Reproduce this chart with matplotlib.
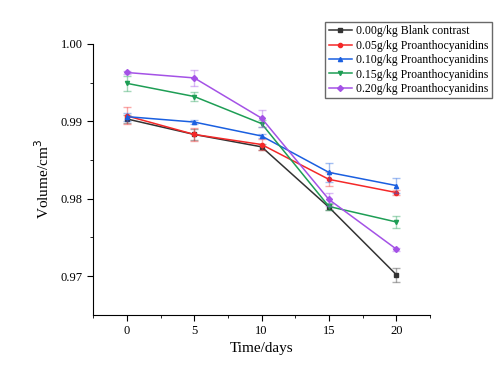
import matplotlib.pyplot as plt

plt.rcParams["font.family"] = ["Liberation Serif", "DejaVu Serif"]

# ── Data ─────────────────────────────────────────────────────────────────────
DAYS = [0, 5, 10, 15, 20]

LABELS = [
    "0.00g/kg Blank contrast",
    "0.05g/kg Proanthocyanidins",
    "0.10g/kg Proanthocyanidins",
    "0.15g/kg Proanthocyanidins",
    "0.20g/kg Proanthocyanidins",
]

BLANK  = [0.9903, 0.9883, 0.9867, 0.9789, 0.9702]
PA_005 = [0.9907, 0.9883, 0.9870, 0.9825, 0.9808]
PA_010 = [0.9906, 0.9899, 0.9881, 0.9834, 0.9817]
PA_015 = [0.9949, 0.9932, 0.9897, 0.9790, 0.9770]
PA_020 = [0.9963, 0.9956, 0.9904, 0.9799, 0.9735]

BLANK_ERR  = [0.0005, 0.0007, 0.0004, 0.0004, 0.0009]
PA_005_ERR = [0.0011, 0.0008, 0.0007, 0.0009, 0.0003]
PA_010_ERR = [0.0005, 0.0003, 0.0003, 0.0012, 0.0010]
PA_015_ERR = [0.0010, 0.0006, 0.0005, 0.0004, 0.0008]
PA_020_ERR = [0.0002, 0.0010, 0.0011, 0.0008, 0.0002]

SERIES = [BLANK, PA_005, PA_010, PA_015, PA_020]
ERRORS = [BLANK_ERR, PA_005_ERR, PA_010_ERR, PA_015_ERR, PA_020_ERR]
COLOURS = ["#333333", "#F42828", "#1A5FE0", "#1E9E55", "#A452E6"]
MARKERS = ["s", "o", "^", "v", "D"]

fig = plt.figure(figsize=(5.04, 3.78), dpi=100)
ax = fig.add_axes([0.185, 0.167, 0.668, 0.717])

for y, err, c, m, lab in zip(SERIES, ERRORS, COLOURS, MARKERS, LABELS):
    ax.errorbar(DAYS, y, yerr=err, fmt="none", ecolor=c, alpha=0.4,
                elinewidth=1, capsize=3, capthick=1)
    ax.plot(DAYS, y, color=c, marker=m, markersize=3, linewidth=1.1,
            label=lab)

ax.set_xlim(-2.5, 22.5)
ax.set_ylim(0.965, 1.00)
ax.set_xticks(DAYS)
ax.set_xticks([-2.5, 2.5, 7.5, 12.5, 17.5, 22.5], minor=True)
ax.set_yticks([0.97, 0.98, 0.99, 1.00])
ax.set_yticks([0.975, 0.985, 0.995], minor=True)
ax.set_yticklabels(["0.97", "0.98", "0.99", "1.00"])

for side in ("top", "right"):
    ax.spines[side].set_visible(False)
ax.tick_params(which="major", direction="out", length=4, labelsize=9)
ax.tick_params(which="minor", direction="out", length=2)
ax.tick_params(axis="x", pad=3)

ax.set_xlabel("Time/days", fontsize=11, labelpad=4)
ax.set_ylabel("Volume/cm$^3$", fontsize=11, labelpad=6)

ax.legend(loc="upper left", bbox_to_anchor=(0.645, 0.942),
          bbox_transform=fig.transFigure, fontsize=8.5, frameon=True,
          fancybox=False, edgecolor="#444444", handlelength=2.0,
          borderpad=0.3, labelspacing=0.2, handletextpad=0.3,
          borderaxespad=0)

plt.savefig("out.png", dpi=100)
plt.close()
